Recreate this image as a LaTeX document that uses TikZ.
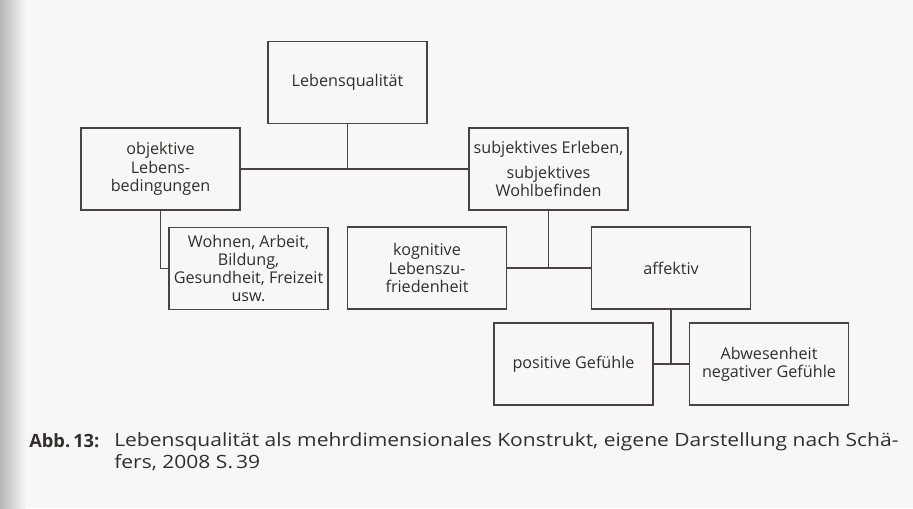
\documentclass[tikz,border=0pt]{standalone}
\usepackage{fontspec}
\setmainfont{Open Sans}
\newfontfamily\breitfont[FakeStretch=1.15]{Open Sans}
\usetikzlibrary{positioning}
\definecolor{papier}{RGB}{249,247,245}
\definecolor{strich}{RGB}{72,66,64}
\definecolor{schrift}{RGB}{50,46,44}

\begin{document}
\begin{tikzpicture}[x=0.025cm, y=-0.025cm,
    kasten/.style={draw=strich, line width=1.3pt, minimum width=3.975cm, minimum height=2.05cm,
        inner sep=1pt, align=center, text=schrift, font=\fontsize{11.5}{13}\selectfont},
    verbindung/.style={draw=strich, line width=1.3pt},
    unterschrift/.style={anchor=base west, inner sep=0pt, align=left, text=schrift,
        font=\breitfont\fontsize{13}{15}\selectfont}]
    % Papier mit Schatten am linken Rand
    \fill[papier] (0,0) rectangle (913,508);
    \shade[left color=black!28, right color=papier] (0,0) rectangle (26,508);
    \useasboundingbox (0,0) rectangle (913,508);

    % Kaesten
    \node[kasten] (lq) at (347.5,82.5) {Lebensqualität};
    \node[kasten] (obj) at (160.5,169) {objektive\\Lebens-\\bedingungen};
    \node[kasten] (subj) at (548.5,169) {subjektives Erleben,\\[5pt]subjektives\\Wohlbefinden};
    \node[kasten] (wohnen) at (248.5,268.5) {Wohnen, Arbeit,\\Bildung,\\Gesundheit, Freizeit\\usw.};
    \node[kasten] (kog) at (427,268) {kognitive\\Lebenszu-\\friedenheit};
    \node[kasten] (aff) at (671,268) {affektiv};
    \node[kasten] (pos) at (573.5,364) {positive Gefühle};
    \node[kasten] (abw) at (769,364) {Abwesenheit\\negativer Gefühle};

    % Verbindungen
    \draw[verbindung] (obj.east) -- (subj.west);
    \draw[verbindung] (lq.south) -- (lq.south |- obj.east);
    \draw[verbindung] (obj.south) |- (wohnen.west);
    \draw[verbindung] (kog.east) -- (aff.west);
    \draw[verbindung] (subj.south) -- (subj.south |- kog.east);
    \draw[verbindung] (pos.east) -- (abw.west);
    \draw[verbindung] (aff.south) -- (aff.south |- pos.east);

    % Bildunterschrift
    \node[unterschrift, font=\fontsize{13}{15}\selectfont\bfseries] (abb) at (29,447) {Abb.\,13:};
    \node[unterschrift] (titel) at (114,468) {Lebensqualität als mehrdimensionales Konstrukt, eigene Darstellung nach Schä-\\fers, 2008 S.\,39};
\end{tikzpicture}
\end{document}
